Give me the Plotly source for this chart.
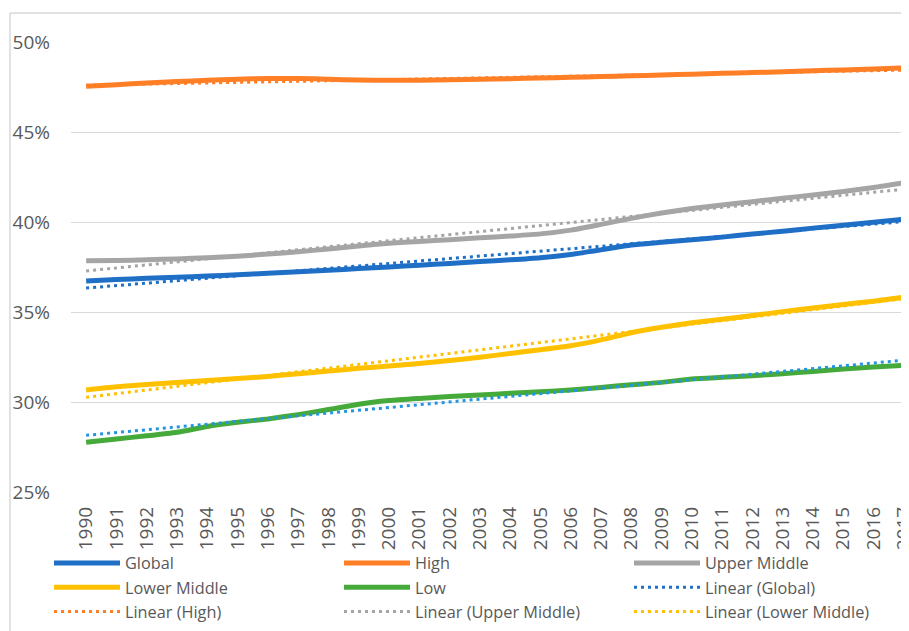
import plotly.graph_objects as go

years = [1990, 1991, 1992, 1993, 1994, 1995, 1996, 1997, 1998, 1999,
         2000, 2001, 2002, 2003, 2004, 2005, 2006, 2007, 2008, 2009,
         2010, 2011, 2012, 2013, 2014, 2015, 2016, 2017]

global_share = [36.72, 36.80, 36.87, 36.93, 37.00, 37.07, 37.15, 37.23, 37.32, 37.41,
                37.50, 37.60, 37.70, 37.80, 37.90, 38.02, 38.20, 38.45, 38.72, 38.87,
                39.02, 39.16, 39.33, 39.49, 39.66, 39.82, 39.99, 40.15]
high_share = [47.54, 47.63, 47.72, 47.80, 47.87, 47.93, 47.97, 47.97, 47.93, 47.89,
              47.87, 47.88, 47.90, 47.93, 47.96, 48.00, 48.04, 48.08, 48.12, 48.17,
              48.21, 48.26, 48.30, 48.35, 48.40, 48.45, 48.50, 48.56]
upper_middle = [37.85, 37.86, 37.90, 37.95, 38.02, 38.10, 38.22, 38.35, 38.50, 38.67,
                38.82, 38.92, 39.02, 39.12, 39.22, 39.34, 39.55, 39.87, 40.20, 40.50,
                40.75, 40.95, 41.13, 41.32, 41.50, 41.70, 41.92, 42.18]
lower_middle = [30.67, 30.85, 30.97, 31.08, 31.20, 31.30, 31.42, 31.57, 31.72, 31.87,
                32.00, 32.14, 32.30, 32.48, 32.70, 32.90, 33.12, 33.45, 33.85, 34.15,
                34.40, 34.60, 34.80, 35.02, 35.22, 35.42, 35.60, 35.82]
low_share = [27.76, 27.95, 28.12, 28.32, 28.64, 28.87, 29.06, 29.30, 29.58, 29.88,
             30.08, 30.20, 30.30, 30.39, 30.48, 30.57, 30.67, 30.81, 30.96, 31.09,
             31.28, 31.37, 31.46, 31.57, 31.70, 31.83, 31.94, 32.04]

trend_years = [1990, 2017]
trend_global = [36.33, 40.02]
trend_high = [47.60, 48.44]
trend_upper = [37.28, 41.82]
trend_lower = [30.26, 35.74]
trend_low = [28.15, 32.32]

TEXT = "#595959"
GRID = "#D9D9D9"
FONT = "Open Sans"

fig = go.Figure()

solid = [
    ("Global", global_share, "#1F6FC6", "legend"),
    ("High", high_share, "#FF7F27", "legend2"),
    ("Upper Middle", upper_middle, "#A5A5A5", "legend3"),
    ("Lower Middle", lower_middle, "#FFC000", "legend"),
    ("Low", low_share, "#45AA3A", "legend2"),
]
for name, vals, col, lg in solid:
    fig.add_trace(go.Scatter(
        x=years, y=vals, name=name, mode="lines",
        line=dict(color=col, width=5, shape="spline", smoothing=0.6),
        legend=lg, hoverinfo="skip"))

trends = [
    ("Linear (Global)", trend_global, "#1F6FC6", "legend3", True),
    ("Linear (High)", trend_high, "#FF7F27", "legend", True),
    ("Linear (Upper Middle)", trend_upper, "#A5A5A5", "legend2", True),
    ("Linear (Lower Middle)", trend_lower, "#FFC000", "legend3", True),
    ("Linear (Low)", trend_low, "#2196E3", "legend", False),
]
for name, vals, col, lg, show in trends:
    fig.add_trace(go.Scatter(
        x=trend_years, y=vals, name=name, mode="lines",
        line=dict(color=col, width=3, dash="3px,4px"),
        legend=lg, showlegend=show, hoverinfo="skip"))

# The page body has an 8px margin; figure pixels = page pixels - 8.
OFF = 8
W, H = 909 - OFF, 631 - OFF
L = 71 - OFF
T = 42 - OFF
B = H - (492 - OFF)
R = 0
pw, ph = W - L - R, H - T - B


def px_x(page_px):
    return (page_px - OFF - L) / pw


def px_y(page_py):
    return (H - B - (page_py - OFF)) / ph


legend_common = dict(
    orientation="v", yanchor="top", xanchor="left",
    font=dict(family=FONT, size=16.3, color=TEXT),
    bgcolor="rgba(0,0,0,0)", itemwidth=66, tracegroupgap=0,
    itemclick=False, itemdoubleclick=False,
)

fig.update_layout(
    width=W, height=H,
    margin=dict(l=L, r=R, t=T, b=B, pad=0, autoexpand=False),
    paper_bgcolor="white", plot_bgcolor="white",
    font=dict(family=FONT, color=TEXT),
    showlegend=True,
    legend=dict(x=px_x(49), y=px_y(546), **legend_common),
    legend2=dict(x=px_x(339), y=px_y(546), **legend_common),
    legend3=dict(x=px_x(629), y=px_y(546), **legend_common),
    xaxis=dict(
        range=[1989.5, 2017.17], tickmode="array", tickvals=years,
        ticktext=[str(y) for y in years], tickangle=-90,
        tickfont=dict(family=FONT, size=19, color=TEXT),
        showgrid=False, zeroline=False, showline=False, ticks="",
        ticklabelstandoff=10, ticklabeloverflow="allow",
        automargin=False, fixedrange=True,
    ),
    yaxis=dict(
        range=[25, 50], dtick=5, tick0=25, ticksuffix="%",
        tickfont=dict(family=FONT, size=19, color=TEXT),
        showgrid=True, gridcolor=GRID, gridwidth=1.3,
        zeroline=False, showline=False, ticks="",
        ticklabelstandoff=20, automargin=False, fixedrange=True,
    ),
    shapes=[
        dict(type="line", xref="paper", yref="paper",
             x0=px_x(10), x1=px_x(915), y0=px_y(13), y1=px_y(13),
             line=dict(color=GRID, width=1.5)),
        dict(type="line", xref="paper", yref="paper",
             x0=px_x(10), x1=px_x(10), y0=px_y(13), y1=px_y(640),
             line=dict(color=GRID, width=1.5)),
    ],
)

fig.write_html("out.html")
